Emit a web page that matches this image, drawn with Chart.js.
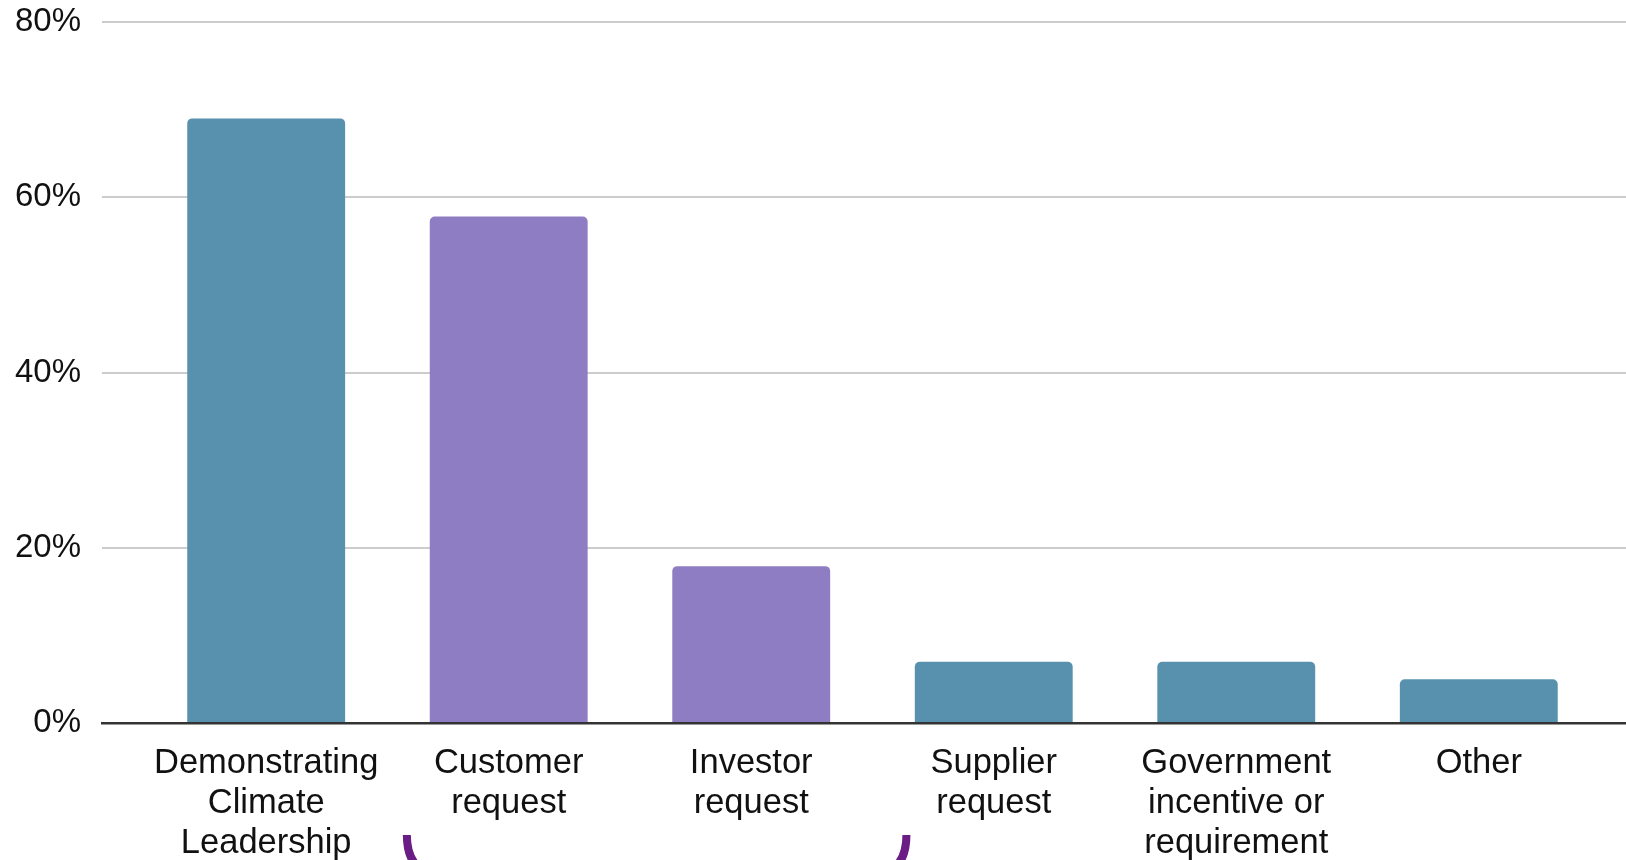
<!DOCTYPE html>
<html>
<head>
<meta charset="utf-8">
<script src="https://cdn.jsdelivr.net/npm/chart.js@4/dist/chart.umd.min.js"></script>
<style>
  html, body { margin: 0; padding: 0; background: #fff; }
  canvas { display: block; }
</style>
</head>
<body>
<canvas id="chart" width="1626" height="860"></canvas>
<script>
// ---------- data ----------
const categories = [
  ["Demonstrating", "Climate", "Leadership"],
  ["Customer", "request"],
  ["Investor", "request"],
  ["Supplier", "request"],
  ["Government", "incentive or", "requirement"],
  ["Other"]
];
const shares = [69, 57.8, 17.9, 7, 7, 5];
const yTicks = [0, 20, 40, 60, 80];

// ---------- styles ----------
const teal = "#5891ad";
const purple = "#8e7dc2";
const barColors = [teal, purple, purple, teal, teal, teal];
const bracketRange = [0.58, 2.64];   // in x-axis units, under Customer / Investor
const fontFamily = "'Liberation Sans', Arial, sans-serif";

// purple bracket under the two request bars
const bracketPlugin = {
  id: "bracket",
  afterDraw(chart) {
    const x = chart.scales.x;
    const ctx = chart.ctx;
    const left = x.getPixelForValue(bracketRange[0]);
    const right = x.getPixelForValue(bracketRange[1]);
    const top = chart.chartArea.bottom + 112;
    const r = 42;
    ctx.save();
    ctx.strokeStyle = "#6a1d84";
    ctx.lineWidth = 8;
    ctx.lineCap = "butt";
    ctx.beginPath();
    ctx.moveTo(left, top);
    ctx.quadraticCurveTo(left, top + r, left + r, top + r);
    ctx.lineTo(right - r, top + r);
    ctx.quadraticCurveTo(right, top + r, right, top);
    ctx.stroke();
    ctx.restore();
  }
};

new Chart(document.getElementById("chart"), {
  type: "bar",
  data: {
    datasets: [{
      data: shares.map((v, i) => ({ x: i, y: v })),
      backgroundColor: barColors,
      borderRadius: { topLeft: 5, topRight: 5 },
      borderSkipped: "start",
      barPercentage: 0.651,
      categoryPercentage: 1
    }]
  },
  options: {
    responsive: false,
    animation: false,
    layout: { padding: { top: 22, right: 0, bottom: 0, left: 0 } },
    plugins: {
      legend: { display: false },
      tooltip: { enabled: false }
    },
    scales: {
      x: {
        type: "linear",
        offset: false,
        min: -0.677,
        max: 5.607,
        afterBuildTicks: s => { s.ticks = categories.map((_, i) => ({ value: i })); },
        afterFit: s => { s.height = 137; },
        grid: { display: false },
        border: { display: true, color: "#333", width: 2.5 },
        ticks: {
          autoSkip: false,
          maxRotation: 0,
          padding: 12,
          color: "#111",
          font: { family: fontFamily, size: 34.5, lineHeight: 1.17 },
          callback: v => categories[v]
        }
      },
      y: {
        min: 0,
        max: 80,
        afterBuildTicks: s => { s.ticks = yTicks.map(v => ({ value: v })); },
        afterFit: s => { s.width = 102; s.paddingTop = 0; s.paddingBottom = 0; },
        grid: { color: "#cccccc", lineWidth: 2, drawTicks: false },
        border: { display: false },
        ticks: {
          padding: 21,
          color: "#111",
          font: { family: fontFamily, size: 33 },
          callback: v => v + "%"
        }
      }
    }
  },
  plugins: [bracketPlugin]
});
</script>
</body>
</html>
